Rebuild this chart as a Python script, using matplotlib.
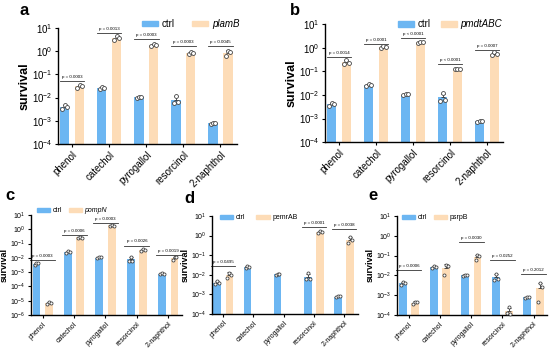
import numpy as np
import matplotlib
matplotlib.use("Agg")
import matplotlib.pyplot as plt
from matplotlib.ticker import LogLocator, NullLocator, LogFormatterMathtext
from matplotlib.patches import Patch

plt.rcParams['font.family'] = ['Liberation Sans', 'DejaVu Sans']
plt.rcParams['mathtext.fontset'] = 'custom'
plt.rcParams['mathtext.rm'] = 'Liberation Sans'

# compuestos
compounds = ['phenol', 'catechol', 'pyrogallol', 'resorcinol', '2-naphthol']

# replicas del control (igual en todos los paneles)
ctrl_reps = [[3.3e-3, 4.6e-3, 4.0e-3],
             [2.3e-2, 2.9e-2, 2.6e-2],
             [9.5e-3, 1.1e-2, 1.05e-2],
             [5.8e-3, 1.2e-2, 6.3e-3],
             [7.3e-4, 8.0e-4, 7.8e-4]]

# replicas de cada cepa
plamB_reps = [[2.6e-2, 3.4e-2, 3.1e-2], [3.0, 4.6, 3.8], [1.6, 2.0, 1.8],
              [0.72, 0.95, 0.85], [0.62, 1.05, 0.95]]
pmdtABC_reps = [[0.21, 0.30, 0.22], [1.0, 1.2, 1.1], [1.65, 1.7, 1.75],
                [0.13, 0.13, 0.13], [0.48, 0.65, 0.55]]
pompN_reps = [[6.0e-6, 8.6e-6, 7.4e-6], [0.23, 0.30, 0.26], [1.6, 2.1, 1.8],
              [3.0e-2, 4.1e-2, 3.5e-2], [7.5e-3, 1.2e-2, 1.05e-2]]
pemrAB_reps = [[6.8e-3, 1.3e-2, 1.0e-2], [np.nan] * 3, [np.nan] * 3,
               [1.3, 1.65, 1.5], [0.4, 0.82, 0.6]]
psrpB_reps = [[3.6e-4, 4.6e-4, 4.6e-4], [1.0e-2, 3.2e-2, 2.9e-2], [6.0e-2, 1.05e-1, 9.0e-2],
              [1.3e-4, 2.5e-4, 1.1e-4], [4.3e-4, 3.9e-3, 2.6e-3]]

# valores p y altura de las barras de significancia
pvals_a = ['p = 0.0003', 'p = 0.0013', 'p = 0.0003', 'p = 0.0003', 'p = 0.0045']
pbar_a = [5e-2, 6.0, 3.3, 1.6, 1.6]
pvals_b = ['p = 0.0014', 'p = 0.0001', 'p < 0.0001', 'p < 0.0001', 'p = 0.0007']
pbar_b = [0.39, 1.5, 2.6, 0.2, 0.8]
pvals_c = ['p = 0.0003', 'p = 0.0006', 'p = 0.0003', 'p = 0.0026', 'p = 0.0019']
pbar_c = [7e-3, 0.4, 2.9, 7.2e-2, 1.6e-2]
pvals_d = ['p = 0.0495', None, None, 'p = 0.0001', 'p = 0.0038']
pbar_d = [0.028, None, None, 2.7, 2.1]
pvals_e = ['p = 0.0006', None, 'p = 0.0030', 'p = 0.0252', 'p = 0.2012']
pbar_e = [0.019, None, 0.5, 0.06, 0.012]

BLUE = '#6cb6f2'
PEACH = '#fddcb7'


def panel(ax, trt_reps, pvals, pbar, ymin, fs, ms, ext):
    x = np.arange(len(compounds))
    off, w = 0.2, 0.25
    for reps, dx, col in [(ctrl_reps, -off, BLUE), (trt_reps, off, PEACH)]:
        reps = np.array(reps, dtype=float)
        mean = reps.mean(axis=1)
        sd = reps.std(axis=1, ddof=1)
        ok = ~np.isnan(mean)
        ax.bar(x[ok] + dx, mean[ok] - ymin, bottom=ymin, width=w, color=col, zorder=1)
        ax.errorbar(x[ok] + dx, mean[ok], yerr=[np.zeros(ok.sum()), sd[ok]], fmt='none',
                    ecolor='#333333', elinewidth=0.6, capsize=1.2, capthick=0.6, zorder=2)
        for i in np.where(ok)[0]:
            ax.plot(x[i] + dx + np.array([-0.06, 0.0, 0.06]), reps[i], 'o', ms=ms,
                    mfc='white', mec='#444444', mew=0.6, zorder=3, clip_on=False)
    for i, (pt, py) in enumerate(zip(pvals, pbar)):
        if pt is None:
            continue
        ax.plot([x[i] - ext, x[i] + ext], [py, py], color='#333333', lw=0.6, clip_on=False)
        ax.annotate(pt, (x[i], py), xytext=(0, 1.5), textcoords='offset points',
                    ha='center', va='bottom', fontsize=3.2, annotation_clip=False)
    ax.set_yscale('log')
    ax.set_ylim(ymin, 10)
    ax.set_xlim(-0.38, 4.44)
    ax.yaxis.set_major_locator(LogLocator(base=10, numticks=20))
    ax.yaxis.set_minor_locator(NullLocator())
    ax.yaxis.set_major_formatter(LogFormatterMathtext())
    ax.set_xticks(x)
    ax.set_xticklabels(compounds, rotation=45, ha='right', rotation_mode='anchor', fontsize=fs)
    ax.tick_params(axis='x', length=2, width=0.8, pad=2)
    ax.tick_params(axis='y', labelsize=fs, length=2.5, width=0.8, pad=1.5)
    for s in ['top', 'right']:
        ax.spines[s].set_visible(False)
    for s in ['left', 'bottom']:
        ax.spines[s].set_linewidth(1.0)
    ax.set_ylabel('survival', fontsize=fs * 1.3, fontweight='bold', labelpad=1)
    return [Patch(color=BLUE), Patch(color=PEACH)]


def add_legend(ax, name, loc, anchor, fs, hl, cs, italic):
    leg = ax.legend(panel_handles, ['ctrl', name], loc=loc, bbox_to_anchor=anchor, ncol=2,
                    frameon=False, fontsize=fs, handlelength=hl, handleheight=0.55,
                    columnspacing=cs, handletextpad=0.4, borderpad=0, borderaxespad=0)
    if italic:
        leg.get_texts()[1].set_style('italic')


fig = plt.figure(figsize=(5.5, 3.5), dpi=100)

ax_a = fig.add_axes([0.1055, 0.589, 0.325, 0.331])
panel_handles = panel(ax_a, plamB_reps, pvals_a, pbar_a, 1e-4, 7, 2.8, 0.33)
add_legend(ax_a, 'plamB', 'center right', (1.017, 1.035), 7, 1.65, 1.8, True)

ax_b = fig.add_axes([0.591, 0.594, 0.324, 0.337])
panel(ax_b, pmdtABC_reps, pvals_b, pbar_b, 1e-4, 7, 2.8, 0.33)
add_legend(ax_b, 'pmdtABC', 'center right', (0.994, 1.0), 7, 1.65, 1.0, True)

ax_c = fig.add_axes([0.056, 0.1, 0.275, 0.286])
panel(ax_c, pompN_reps, pvals_c, pbar_c, 1e-6, 5, 2.2, 0.4)
add_legend(ax_c, 'pompN', 'center left', (0.04, 1.04), 5, 1.9, 0.9, True)

ax_d = fig.add_axes([0.385, 0.103, 0.265, 0.28])
panel(ax_d, pemrAB_reps, pvals_d, pbar_d, 1e-4, 5, 2.2, 0.4)
add_legend(ax_d, 'pemrAB', 'center left', (0.055, 0.98), 5, 1.9, 1.6, False)

ax_e = fig.add_axes([0.722, 0.1, 0.273, 0.283])
panel(ax_e, psrpB_reps, pvals_e, pbar_e, 1e-4, 5, 2.2, 0.4)
add_legend(ax_e, 'psrpB', 'center left', (0.033, 0.98), 5, 1.9, 0.9, False)

# letras de los paneles
for txt, px, py in [('a', 20, 15), ('b', 290, 15), ('c', 5, 200), ('d', 184, 203), ('e', 368, 200)]:
    fig.text(px / 550, 1 - py / 350, txt, fontsize=12, fontweight='bold', va='baseline')

fig.savefig('out.png', dpi=100)
